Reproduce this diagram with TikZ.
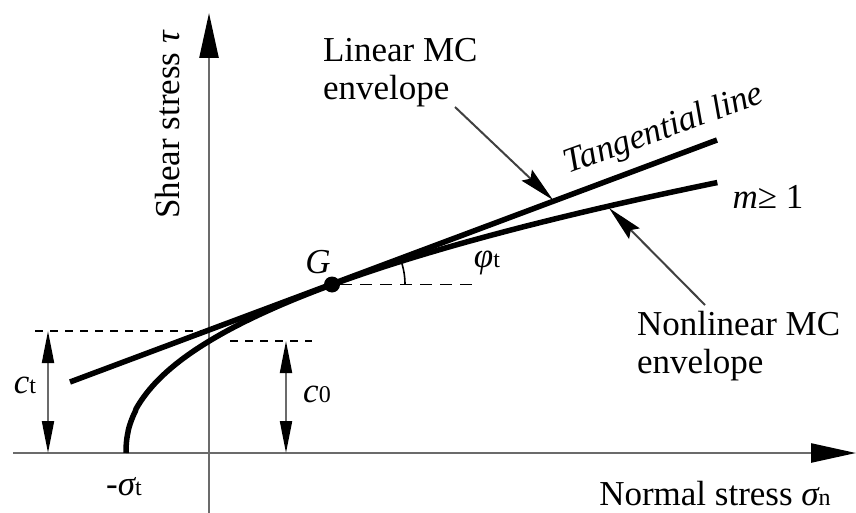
\documentclass[tikz,border=0pt]{standalone}
\usepackage{fontspec}
\setmainfont{Liberation Serif}
\usetikzlibrary{arrows.meta}
\newcommand{\lowsub}[1]{{\fontsize{24}{24}\selectfont\upshape #1}}
\definecolor{axisgray}{gray}{0.42}
\definecolor{callgray}{gray}{0.25}
\begin{document}
\begin{tikzpicture}[x=1pt,y=-1pt,
  every node/.style={font=\fontsize{35}{38.5}\selectfont, inner sep=0pt, outer sep=0pt},
  axisline/.style={draw=axisgray, line width=2.5pt, -{Triangle[length=45pt,width=19pt,color=black]}},
  envelopeline/.style={draw=black, line width=5.5pt},
  dimline/.style={draw=axisgray, line width=2pt,
    {Triangle[length=32pt,width=12pt,color=black]}-{Triangle[length=32pt,width=12pt,color=black]}},
  dashline/.style={draw=black, line width=1.8pt, dash pattern=on 8pt off 7pt},
  longdash/.style={draw=black, line width=1.8pt, dash pattern=on 12pt off 8pt},
  callout/.style={draw=callgray, line width=2pt, -{Stealth[length=36pt,width=15pt,inset=5pt,color=black]}},
  dotnode/.style={circle, fill=black, minimum size=16pt}
]
\useasboundingbox (0,0) rectangle (856,513);
% axes
\coordinate (xs) at (13,453);
\coordinate (xe) at (856,453);
\coordinate (ys) at (209,513);
\coordinate (ye) at (209,13);
\draw[axisline] (xs) -- (xe);
\draw[axisline] (ys) -- (ye);
% dashed helper lines
\coordinate (ctL) at (35,331);
\coordinate (ctR) at (209,331);
\coordinate (coL) at (230,341);
\coordinate (coR) at (312,341);
\draw[dashline] (ctL) -- (ctR);
\draw[dashline] (coL) -- (coR);
% dimension arrows
\coordinate (ctT) at (48,331);
\coordinate (ctB) at (48,453);
\coordinate (coT) at (286,341);
\coordinate (coB) at (286,453);
\draw[dimline] (ctT) -- (ctB);
\draw[dimline] (coT) -- (coB);
% nonlinear envelope
\draw[envelopeline] (126,453) -- plot[domain=0.02:1, samples=160] ({126+594*\x*\x}, {453-271*\x^0.9});
% tangential line
\coordinate (T1) at (70,382);
\coordinate (T2) at (717,140);
\draw[envelopeline] (T1) -- (T2);
% point G
\node[dotnode] (Gdot) at (332,284.5) {};
\coordinate (Gend) at (475,284.5);
\draw[longdash] (Gdot.east) -- (Gend);
\draw[draw=black, line width=1.6pt] (405,284.5) arc[start angle=0, end angle=-20.5, radius=73];
% callouts
\coordinate (linTail) at (455,107);
\coordinate (linTip) at (553,200);
\coordinate (nonTail) at (705,305);
\coordinate (nonTip) at (609,208);
\draw[callout] (linTail) -- (linTip);
\draw[callout] (nonTail) -- (nonTip);
% labels
\node[anchor=north west, align=left] (linlab) at (323,38) {Linear MC\\envelope};
\node[anchor=north west, align=left] (nonlab) at (637,311) {Nonlinear MC\\envelope};
\node[anchor=base, rotate=20] (tanlab) at (667,138) {\itshape Tangential line};
\node[anchor=base] (mlab) at (768,208) {{\itshape m}≥ 1};
\node[anchor=base] (Glab) at (318,273) {\itshape G};
\node[anchor=base] (philab) at (487,267) {{\itshape φ}\lowsub{t}};
\node[anchor=base] (ctlab) at (25,393) {{\itshape c}\lowsub{t}};
\node[anchor=base] (colab) at (317,402) {{\itshape c}\lowsub{0}};
\node[anchor=base] (sigtlab) at (124,495) {-{\itshape σ}\lowsub{t}};
\node[anchor=base] (xlab) at (715,505) {Normal stress {\itshape σ}\lowsub{n}};
\node[anchor=base, rotate=90] (ylab) at (179,125) {Shear stress {\itshape τ}};
\end{tikzpicture}
\end{document}
